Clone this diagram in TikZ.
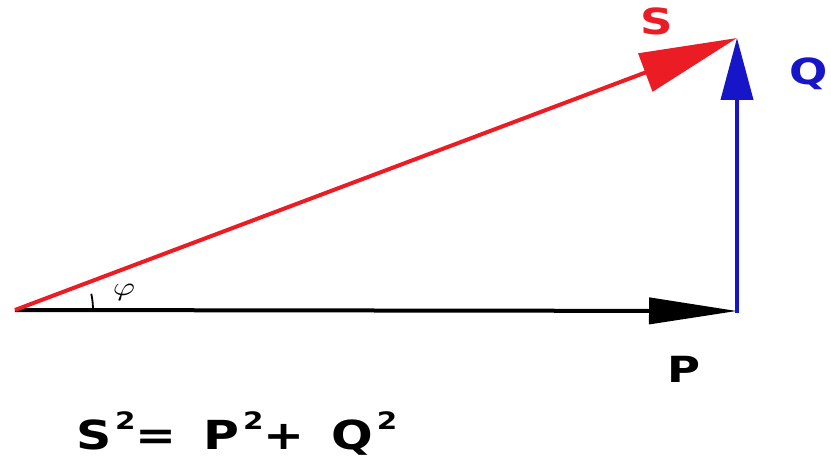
\documentclass[tikz,border=0pt]{standalone}
\usepackage{fontspec}
\setsansfont{DejaVu Sans}
\usepackage{tikz}
\usetikzlibrary{arrows.meta,calc,positioning}
\definecolor{app}{RGB}{236,28,36}
\definecolor{rea}{RGB}{22,22,200}
\tikzset{lbl/.style={font=\sffamily\bfseries\fontsize{36}{40}\selectfont,inner sep=0pt,xscale=1.25}}
\newcommand{\sqr}{\hspace{3pt}\raisebox{0.5em}{\fontsize{24}{26}\selectfont 2}}

\begin{document}
\begin{tikzpicture}[x=1pt,y=-1pt]
  \useasboundingbox (0,0) rectangle (831,460);
  \coordinate (O) at (15,310); \coordinate (P) at (737,311); \coordinate (S) at (737,38);
  \draw[line width=4pt,-{Triangle[length=88pt,width=26pt]}] (O) -- (P);
  \draw[line width=4pt,rea,-{Triangle[length=62pt,width=32pt]}] ($(P)+(0,2)$) -- (S);
  \draw[line width=4pt,app,-{Triangle[length=98pt,width=40pt]}] (O) -- (S);
  \draw[line width=1.8pt] ($(O)+(78,0)$) arc (0:-12:78);
  \node[inner sep=0pt] (phi) at (124,292) {\scalebox{3.4}[2.6]{$\varphi$}};
  \node[lbl,text=app] (Slbl) at (657,21) {S};
  \node[lbl,text=rea] (Qlbl) at (809,74) {Q};
  \node[lbl] (Plbl) at (684,369) {P};
  \node[lbl,font=\sffamily\bfseries\fontsize{40}{44}\selectfont,xscale=0.98,anchor=west] (eq) at (76,434)
    {S\sqr= \hspace{8pt}P\sqr+ \hspace{8pt}Q\sqr};
\end{tikzpicture}
\end{document}
